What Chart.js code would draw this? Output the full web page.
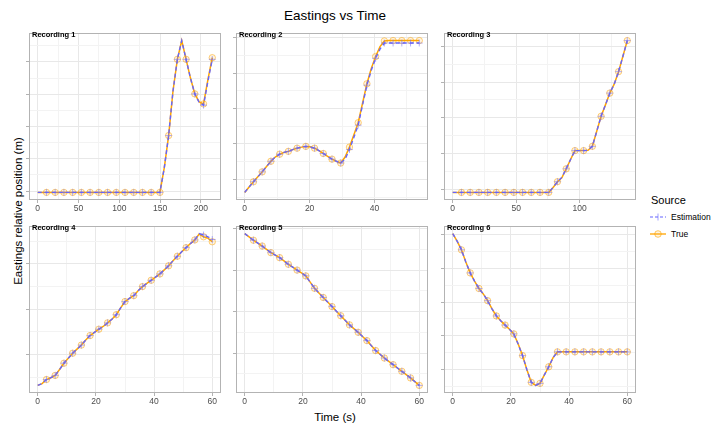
<!DOCTYPE html>
<html lang="en">
<head>
<meta charset="UTF-8">
<title>Eastings vs Time</title>
<script src="https://cdn.jsdelivr.net/npm/chart.js@4.4.1/dist/chart.umd.min.js"></script>
<style>
  body { margin: 0; background: #fff; font-family: "Liberation Sans", Arial, sans-serif; }
  #page { position: relative; width: 711px; height: 428px; overflow: hidden; }
  canvas.panel { position: absolute; }
  .lab { position: absolute; white-space: nowrap; color: #000; }
  .strip { position: absolute; font-size: 7.5px; font-weight: bold; color: #000; white-space: nowrap; }
  .key { position: absolute; }
</style>
</head>
<body>
<div id="page">
  <div class="lab" style="left:235px; top:8px; width:200px; text-align:center; font-size:13.5px; line-height:16px;">Eastings vs Time</div>
  <div class="lab" style="left:235px; top:409px; width:200px; text-align:center; font-size:11.5px; line-height:16px;">Time (s)</div>
  <div class="lab" style="left:-132px; top:203px; width:300px; height:16px; text-align:center; font-size:11.5px; line-height:16px; transform:rotate(-90deg);">Eastings relative position (m)</div>

  <!-- legend -->
  <div class="lab" style="left:651px; top:193px; font-size:11px; line-height:14px;">Source</div>
  <svg class="key" style="left:650px; top:210px;" width="16" height="14">
    <line x1="0" y1="7" x2="16" y2="7" stroke="#6464FF" stroke-width="1.2" stroke-dasharray="3,2"/>
    <line x1="8" y1="3.5" x2="8" y2="10.5" stroke="rgba(100,100,255,0.6)" stroke-width="1"/>
  </svg>
  <div class="lab" style="left:671px; top:211px; font-size:8.5px; line-height:12px;">Estimation</div>
  <svg class="key" style="left:650px; top:227px;" width="16" height="14">
    <line x1="0" y1="7" x2="16" y2="7" stroke="#FFA500" stroke-width="1.3"/>
    <circle cx="8" cy="7" r="3.3" fill="rgba(255,165,0,0.12)" stroke="rgba(255,165,0,0.6)" stroke-width="1"/>
  </svg>
  <div class="lab" style="left:671px; top:228px; font-size:8.5px; line-height:12px;">True</div>
</div>

<script>
// sample times (s) and relative eastings, one set per recording
const time1 = [0, 5.35, 10.7, 16.05, 21.4, 26.75, 32.1, 37.45, 42.8, 48.15, 53.5, 58.85, 64.2, 69.55, 74.9, 80.25, 85.6, 90.95, 96.3, 101.65, 107, 112.35, 117.7, 123.05, 128.4, 133.75, 139.1, 144.45, 149.8, 155.15, 160.5, 165.85, 171.2, 176.55, 181.9, 187.25, 192.6, 197.95, 203.3, 208.65, 214];
const true1 = [-0.04, -0.04, -0.04, -0.04, -0.04, -0.04, -0.04, -0.04, -0.04, -0.04, -0.04, -0.04, -0.04, -0.04, -0.04, -0.04, -0.04, -0.04, -0.04, -0.04, -0.04, -0.04, -0.04, -0.04, -0.04, -0.04, -0.04, -0.04, -0.04, 0.72, 1.72, 3.1, 4.08, 4.66, 4.08, 3.5, 3.01, 2.76, 2.7, 3.45, 4.13];
const est1 = [-0.04, -0.04, -0.04, -0.04, -0.04, -0.04, -0.04, -0.04, -0.04, -0.04, -0.04, -0.04, -0.04, -0.04, -0.04, -0.04, -0.04, -0.04, -0.04, -0.04, -0.04, -0.04, -0.04, -0.04, -0.04, -0.04, -0.04, -0.04, -0.04, 0.72, 1.72, 3.1, 4.08, 4.66, 4.08, 3.5, 3.01, 2.74, 2.66, 3.4, 4.08];

const time2 = [0, 1.345, 2.69, 4.035, 5.38, 6.725, 8.07, 9.415, 10.76, 12.105, 13.45, 14.795, 16.14, 17.485, 18.83, 20.175, 21.52, 22.865, 24.21, 25.555, 26.9, 28.245, 29.59, 30.935, 32.28, 33.625, 34.97, 36.315, 37.66, 39.005, 40.35, 41.695, 43.04, 44.385, 45.73, 47.075, 48.42, 49.765, 51.11, 52.455, 53.8];
const true2 = [-0.37, -0.22, -0.07, 0.07, 0.21, 0.36, 0.51, 0.63, 0.71, 0.76, 0.79, 0.84, 0.88, 0.91, 0.93, 0.92, 0.88, 0.81, 0.73, 0.65, 0.57, 0.51, 0.46, 0.63, 0.91, 1.25, 1.6, 2.15, 2.7, 3.13, 3.47, 3.75, 3.91, 3.92, 3.92, 3.92, 3.92, 3.92, 3.92, 3.92, 3.92];
const est2 = [-0.37, -0.22, -0.07, 0.07, 0.21, 0.36, 0.51, 0.63, 0.71, 0.76, 0.79, 0.84, 0.88, 0.91, 0.93, 0.92, 0.88, 0.81, 0.73, 0.65, 0.57, 0.51, 0.46, 0.57, 0.84, 1.18, 1.53, 2.1, 2.66, 3.08, 3.42, 3.68, 3.85, 3.85, 3.85, 3.85, 3.85, 3.85, 3.85, 3.85, 3.85];

const time3 = [0, 3.44, 6.88, 10.32, 13.76, 17.2, 20.64, 24.08, 27.52, 30.96, 34.4, 37.84, 41.28, 44.72, 48.16, 51.6, 55.04, 58.48, 61.92, 65.36, 68.8, 72.24, 75.68, 79.12, 82.56, 86, 89.44, 92.88, 96.32, 99.76, 103.2, 106.64, 110.08, 113.52, 116.96, 120.4, 123.84, 127.28, 130.72, 134.16, 137.6];
const true3 = [-0.09, -0.09, -0.09, -0.09, -0.09, -0.09, -0.09, -0.09, -0.09, -0.09, -0.09, -0.09, -0.09, -0.09, -0.09, -0.09, -0.09, -0.09, -0.09, -0.09, -0.09, -0.09, -0.09, 0.05, 0.21, 0.32, 0.57, 0.83, 1.08, 1.08, 1.08, 1.09, 1.2, 1.62, 2.04, 2.36, 2.69, 2.94, 3.29, 3.72, 4.16];
const est3 = [-0.09, -0.09, -0.09, -0.09, -0.09, -0.09, -0.09, -0.09, -0.09, -0.09, -0.09, -0.09, -0.09, -0.09, -0.09, -0.09, -0.09, -0.09, -0.09, -0.09, -0.09, -0.09, -0.09, 0.05, 0.21, 0.33, 0.57, 0.83, 1.08, 1.08, 1.08, 1.09, 1.2, 1.62, 2.04, 2.36, 2.69, 2.94, 3.29, 3.72, 4.16];

const time4 = [0, 1.5, 3, 4.5, 6, 7.5, 9, 10.5, 12, 13.5, 15, 16.5, 18, 19.5, 21, 22.5, 24, 25.5, 27, 28.5, 30, 31.5, 33, 34.5, 36, 37.5, 39, 40.5, 42, 43.5, 45, 46.5, 48, 49.5, 51, 52.5, 54, 55.5, 57, 58.5, 60];
const true4 = [-0.68, -0.64, -0.55, -0.51, -0.46, -0.33, -0.19, -0.08, 0.03, 0.12, 0.21, 0.32, 0.42, 0.49, 0.56, 0.62, 0.7, 0.78, 0.88, 1.03, 1.17, 1.24, 1.3, 1.41, 1.5, 1.57, 1.64, 1.71, 1.78, 1.87, 1.96, 2.07, 2.17, 2.27, 2.36, 2.45, 2.53, 2.66, 2.6, 2.57, 2.49];
const est4 = [-0.68, -0.64, -0.55, -0.51, -0.46, -0.33, -0.19, -0.08, 0.03, 0.12, 0.21, 0.32, 0.42, 0.49, 0.56, 0.62, 0.7, 0.78, 0.88, 1.03, 1.17, 1.24, 1.3, 1.41, 1.5, 1.57, 1.64, 1.71, 1.78, 1.87, 1.96, 2.07, 2.17, 2.27, 2.36, 2.45, 2.53, 2.67, 2.64, 2.6, 2.54];

const time5 = [0, 1.5, 3, 4.5, 6, 7.5, 9, 10.5, 12, 13.5, 15, 16.5, 18, 19.5, 21, 22.5, 24, 25.5, 27, 28.5, 30, 31.5, 33, 34.5, 36, 37.5, 39, 40.5, 42, 43.5, 45, 46.5, 48, 49.5, 51, 52.5, 54, 55.5, 57, 58.5, 60];
const true5 = [2.88, 2.8, 2.72, 2.65, 2.58, 2.5, 2.42, 2.36, 2.3, 2.22, 2.14, 2.07, 2.0, 1.93, 1.86, 1.71, 1.56, 1.45, 1.34, 1.23, 1.12, 1.01, 0.9, 0.79, 0.68, 0.59, 0.5, 0.4, 0.3, 0.18, 0.06, -0.03, -0.12, -0.2, -0.28, -0.36, -0.44, -0.52, -0.6, -0.69, -0.78];
const est5 = [2.88, 2.8, 2.72, 2.65, 2.58, 2.5, 2.42, 2.36, 2.3, 2.22, 2.14, 2.07, 2.0, 1.93, 1.86, 1.71, 1.56, 1.45, 1.34, 1.23, 1.12, 1.01, 0.9, 0.79, 0.68, 0.59, 0.5, 0.4, 0.3, 0.18, 0.06, -0.03, -0.12, -0.2, -0.28, -0.36, -0.44, -0.52, -0.6, -0.69, -0.78];

const time6 = [0, 1.5, 3, 4.5, 6, 7.5, 9, 10.5, 12, 13.5, 15, 16.5, 18, 19.5, 21, 22.5, 24, 25.5, 27, 28.5, 30, 31.5, 33, 34.5, 36, 37.5, 39, 40.5, 42, 43.5, 45, 46.5, 48, 49.5, 51, 52.5, 54, 55.5, 57, 58.5, 60];
const true6 = [4.02, 3.8, 3.54, 3.18, 2.86, 2.62, 2.4, 2.24, 2.04, 1.8, 1.59, 1.45, 1.32, 1.2, 1.06, 0.76, 0.42, 0.0, -0.37, -0.46, -0.4, -0.15, 0.09, 0.36, 0.53, 0.53, 0.53, 0.53, 0.53, 0.53, 0.53, 0.53, 0.53, 0.53, 0.53, 0.53, 0.53, 0.53, 0.53, 0.53, 0.53];
const est6 = [4.02, 3.8, 3.54, 3.18, 2.86, 2.62, 2.4, 2.24, 2.04, 1.8, 1.59, 1.45, 1.32, 1.2, 1.06, 0.76, 0.42, 0.0, -0.37, -0.46, -0.4, -0.15, 0.09, 0.36, 0.53, 0.53, 0.53, 0.53, 0.53, 0.53, 0.53, 0.53, 0.53, 0.53, 0.53, 0.53, 0.53, 0.53, 0.53, 0.53, 0.53];

// x tick labels per panel
const xTicks1 = [0, 50, 100, 150, 200];
const xTicks2 = [0, 20, 40];
const xTicks3 = [0, 50, 100];
const xTicks4 = [0, 20, 40, 60];
const xTicks5 = [0, 20, 40, 60];
const xTicks6 = [0, 20, 40, 60];

const recordings = ['Recording 1', 'Recording 2', 'Recording 3', 'Recording 4', 'Recording 5', 'Recording 6'];
const times = [time1, time2, time3, time4, time5, time6];
const trues = [true1, true2, true3, true4, true5, true6];
const ests = [est1, est2, est3, est4, est5, est6];
const xTicks = [xTicks1, xTicks2, xTicks3, xTicks4, xTicks5, xTicks6];

const colLeft = [29, 236, 444];
const rowTop = [29, 222];
const panelW = 195, panelH = 171;

const MAJOR = '#e8e8e8', MINOR = '#f3f3f3', FRAME = '#b3b3b3';
const EST = '#6464FF', TRUE_C = '#FFA500';

// ggplot-like 5% expansion of the data range
function expand(arr) {
  const lo = Math.min(...arr), hi = Math.max(...arr), p = (hi - lo) * 0.05;
  return [lo - p, hi + p];
}

function withMinors(majors, lo, hi) {
  const step = majors[1] - majors[0];
  const out = majors.slice();
  for (let i = -1; i < majors.length; i++) {
    const m = majors[0] + (i + 0.5) * step;
    if (m > lo && m < hi) out.push(m);
  }
  return out.sort((a, b) => a - b);
}

const frame = {
  id: 'frame',
  afterDatasetsDraw(chart) {
    const { ctx, chartArea: a } = chart;
    ctx.save();
    ctx.strokeStyle = FRAME;
    ctx.lineWidth = 1;
    ctx.strokeRect(Math.round(a.left) + 0.5, Math.round(a.top) + 0.5,
      Math.round(a.right - a.left) - 1, Math.round(a.bottom - a.top) - 1);
    ctx.restore();
  }
};

const isMark = c => c.dataIndex > 0 && c.dataIndex % 2 === 0;
const page = document.getElementById('page');

recordings.forEach((name, k) => {
  const L = colLeft[k % 3], T = rowTop[Math.floor(k / 3)];
  const [xMin, xMax] = expand(times[k]);
  const [yMin, yMax] = expand(trues[k].concat(ests[k]));
  const xMajor = xTicks[k];
  const xAll = withMinors(xMajor, xMin, xMax);
  const yMajor = [];
  for (let v = Math.ceil(yMin); v <= Math.floor(yMax); v++) yMajor.push(v);
  const yAll = withMinors(yMajor, yMin, yMax);

  const cv = document.createElement('canvas');
  cv.className = 'panel';
  cv.width = panelW + 8;
  cv.height = panelH + 17;
  cv.style.left = (L - 6) + 'px';
  cv.style.top = (T - 1) + 'px';
  page.appendChild(cv);

  const strip = document.createElement('div');
  strip.className = 'strip';
  strip.textContent = name;
  strip.style.left = (L + 3) + 'px';
  strip.style.top = (T + 1) + 'px';
  page.appendChild(strip);

  new Chart(cv, {
    type: 'line',
    data: {
      datasets: [
        {
          label: 'Estimation',
          data: times[k].map((t, i) => ({ x: t, y: ests[k][i] })),
          borderColor: EST,
          borderWidth: 1.4,
          borderDash: [4, 3],
          pointStyle: 'cross',
          pointRadius: c => isMark(c) ? 3.4 : 0,
          pointBorderColor: 'rgba(100,100,255,0.5)',
          pointBorderWidth: 1,
          tension: 0
        },
        {
          label: 'True',
          data: times[k].map((t, i) => ({ x: t, y: trues[k][i] })),
          borderColor: TRUE_C,
          borderWidth: 1.5,
          pointStyle: 'circle',
          pointRadius: c => isMark(c) ? 3.2 : 0,
          pointBackgroundColor: 'rgba(255,165,0,0.12)',
          pointBorderColor: 'rgba(255,165,0,0.5)',
          pointBorderWidth: 1,
          tension: 0
        }
      ]
    },
    options: {
      responsive: false,
      animation: false,
      events: [],
      layout: { padding: { left: 0, right: 2, top: 1, bottom: 0 } },
      plugins: { legend: { display: false }, tooltip: { enabled: false } },
      scales: {
        x: {
          type: 'linear',
          min: xMin,
          max: xMax,
          afterBuildTicks: s => { s.ticks = xAll.map(v => ({ value: v })); },
          afterFit: s => { s.height = 16; },
          border: { display: false },
          grid: {
            color: c => xMajor.includes(c.tick.value) ? MAJOR : MINOR,
            tickColor: c => xMajor.includes(c.tick.value) ? FRAME : 'rgba(0,0,0,0)',
            tickLength: 3
          },
          ticks: {
            autoSkip: false,
            maxRotation: 0,
            padding: 1,
            color: '#4d4d4d',
            font: { family: '"Liberation Sans", Arial, sans-serif', size: 8.5 },
            callback: v => xMajor.includes(v) ? String(v) : ''
          }
        },
        y: {
          type: 'linear',
          min: yMin,
          max: yMax,
          afterBuildTicks: s => { s.ticks = yAll.map(v => ({ value: v })); },
          afterFit: s => { s.width = 6; },
          border: { display: false },
          grid: {
            color: c => Number.isInteger(c.tick.value) ? MAJOR : MINOR,
            tickColor: c => Number.isInteger(c.tick.value) ? FRAME : 'rgba(0,0,0,0)',
            tickLength: 3
          },
          ticks: { display: false }
        }
      }
    },
    plugins: [frame]
  });
});
</script>
</body>
</html>
